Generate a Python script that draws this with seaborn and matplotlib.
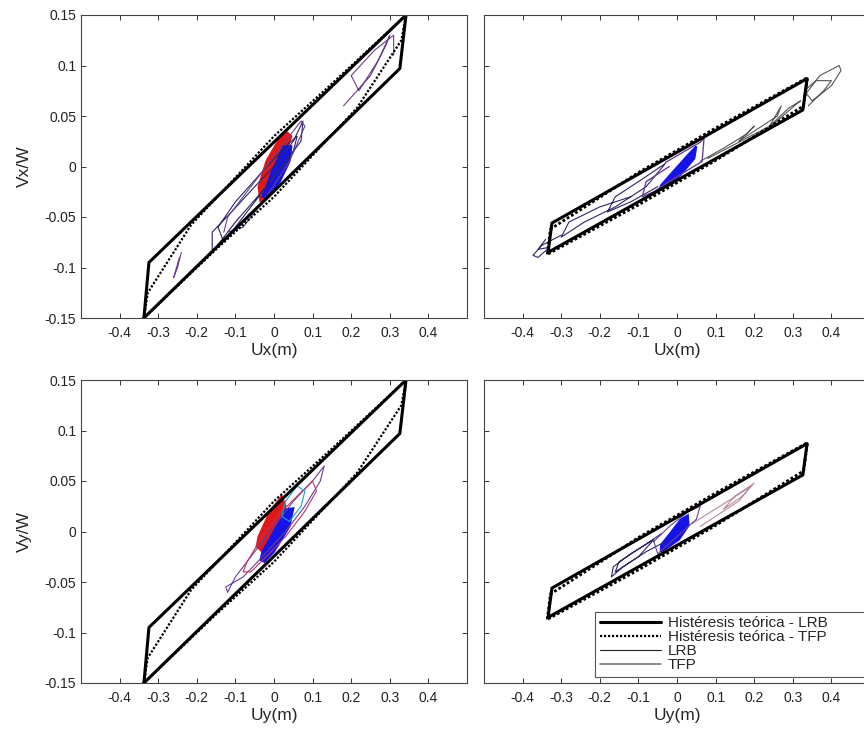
import numpy as np
import pandas as pd
import matplotlib
matplotlib.use("Agg")
import matplotlib.pyplot as plt
import seaborn as sns
from matplotlib.lines import Line2D

# ---------------- data ----------------
xticks = [-0.4, -0.3, -0.2, -0.1, 0.0, 0.1, 0.2, 0.3, 0.4]
xtick_labels = ["-0.4", "-0.3", "-0.2", "-0.1", "0", "0.1", "0.2", "0.3", "0.4"]
yticks = [-0.15, -0.1, -0.05, 0.0, 0.05, 0.1, 0.15]
ytick_labels = ["-0.15", "-0.1", "-0.05", "0", "0.05", "0.1", "0.15"]

# theoretical hysteresis (left column)
lrb_left_u = [-0.337, -0.324, 0.342, 0.326, -0.337]
lrb_left_v = [-0.150, -0.095, 0.150, 0.097, -0.150]
tfp_left_u = [-0.337, -0.327, -0.215, 0.0, 0.15, 0.342, 0.330, 0.215, 0.0, -0.15, -0.337]
tfp_left_v = [-0.150, -0.125, -0.058, 0.030, 0.082, 0.150, 0.125, 0.058, -0.030, -0.082, -0.150]

# theoretical hysteresis (right column)
lrb_right_u = [-0.334, -0.324, 0.337, 0.326, -0.334]
lrb_right_v = [-0.085, -0.056, 0.087, 0.056, -0.085]
tfp_right_u = [-0.336, -0.328, -0.10, 0.10, 0.338, 0.328, 0.10, -0.10, -0.336]
tfp_right_v = [-0.087, -0.062, -0.006, 0.038, 0.088, 0.060, 0.006, -0.038, -0.087]

# panel A (Ux vs Vx/W, left)
a_nav_u = [0.00, 0.05, 0.075, 0.07, 0.02, -0.06, -0.13, -0.145, -0.10, -0.03, 0.03, 0.06, 0.05, -0.02, -0.10, -0.16, -0.16, -0.11, -0.05, 0.00]
a_nav_v = [0.00, 0.025, 0.045, 0.025, 0.000, -0.040, -0.075, -0.060, -0.035, -0.005, 0.020, 0.030, 0.015, -0.020, -0.055, -0.085, -0.065, -0.045, -0.020, 0.00]
a_nav2_u = [-0.09, -0.12, -0.08, -0.02, 0.04, 0.08, 0.07, 0.02, -0.06, -0.12, -0.13]
a_nav2_v = [-0.05, -0.065, -0.06, -0.03, 0.005, 0.04, 0.045, 0.02, -0.02, -0.05, -0.065]
a_end_u = [0.18, 0.25, 0.29, 0.30, 0.27, 0.22, 0.20, 0.26, 0.31, 0.31]
a_end_v = [0.06, 0.09, 0.12, 0.13, 0.105, 0.075, 0.09, 0.115, 0.13, 0.11]
a_left_u = [-0.24, -0.25, -0.26, -0.245]
a_left_v = [-0.085, -0.10, -0.11, -0.09]
a_red_u = [-0.04, -0.02, 0.01, 0.03, 0.045, 0.02, -0.01, -0.035]
a_red_v = [-0.02, 0.005, 0.025, 0.035, 0.03, 0.0, -0.025, -0.035]
a_blob_u = [-0.025, -0.005, 0.025, 0.045, 0.04, 0.015, -0.015, -0.03]
a_blob_v = [-0.025, -0.005, 0.02, 0.02, 0.005, -0.015, -0.03, -0.03]

# panel B (Ux vs Vx/W, right)
b_nav_u = [-0.05, -0.12, -0.18, -0.16, -0.10, -0.03, -0.08, -0.16, -0.24, -0.30, -0.28, -0.20, -0.12]
b_nav_v = [-0.02, -0.035, -0.045, -0.030, -0.015, 0.003, -0.02, -0.04, -0.055, -0.07, -0.055, -0.04, -0.03]
b_rt_u = [0.06, 0.12, 0.18, 0.20, 0.16, 0.22, 0.26, 0.27, 0.24, 0.29, 0.32, 0.31, 0.25, 0.15, 0.08]
b_rt_v = [0.005, 0.018, 0.032, 0.04, 0.025, 0.04, 0.05, 0.06, 0.04, 0.058, 0.065, 0.062, 0.042, 0.022, 0.008]
b_out_u = [0.33, 0.37, 0.42, 0.425, 0.40, 0.35, 0.33, 0.36, 0.40, 0.38, 0.34]
b_out_v = [0.07, 0.09, 0.10, 0.095, 0.08, 0.065, 0.075, 0.085, 0.085, 0.075, 0.06]
b_low_u = [-0.30, -0.35, -0.373, -0.36, -0.33, -0.36, -0.34]
b_low_v = [-0.068, -0.078, -0.088, -0.09, -0.08, -0.082, -0.072]
b_pur_u = [-0.03, 0.06, 0.07, 0.065, 0.0, -0.06, -0.09, -0.08, -0.02]
b_pur_v = [0.004, 0.024, 0.028, 0.005, -0.01, -0.025, -0.03, -0.015, 0.0]
b_blob_u = [-0.04, -0.01, 0.03, 0.05, 0.045, 0.01, -0.03, -0.045]
b_blob_v = [-0.018, -0.005, 0.012, 0.02, 0.008, -0.008, -0.02, -0.022]

# panel C (Uy vs Vy/W, left)
c_pur_u = [-0.12, -0.10, -0.05, 0.0, 0.05, 0.10, 0.13, 0.12, 0.08, 0.03, -0.03, -0.08, -0.125, -0.12]
c_pur_v = [-0.06, -0.045, -0.02, 0.005, 0.03, 0.05, 0.065, 0.05, 0.025, 0.0, -0.025, -0.045, -0.055, -0.06]
c_red_u = [-0.07, -0.03, 0.02, 0.06, 0.10, 0.11, 0.08, 0.03, -0.02, -0.06, -0.08, -0.07]
c_red_v = [-0.03, -0.005, 0.02, 0.035, 0.05, 0.04, 0.02, -0.005, -0.025, -0.04, -0.04, -0.03]
c_cyan_u = [0.03, 0.06, 0.08, 0.07, 0.04, 0.02, 0.03]
c_cyan_v = [0.03, 0.045, 0.04, 0.025, 0.01, 0.015, 0.03]
c_redblob_u = [-0.04, -0.01, 0.02, 0.03, 0.0, -0.03, -0.045]
c_redblob_v = [-0.005, 0.02, 0.035, 0.025, 0.0, -0.02, -0.015]
c_blob_u = [-0.03, 0.0, 0.03, 0.05, 0.04, 0.0, -0.025, -0.035]
c_blob_v = [-0.02, 0.0, 0.022, 0.023, 0.005, -0.02, -0.03, -0.028]

# panel D (Uy vs Vy/W, right)
d_nav_u = [-0.03, -0.08, -0.14, -0.17, -0.165, -0.12, -0.06, -0.10, -0.16, -0.15, -0.09, -0.04]
d_nav_v = [-0.01, -0.02, -0.035, -0.045, -0.035, -0.022, -0.008, -0.025, -0.04, -0.03, -0.015, -0.002]
d_pink_u = [0.04, 0.09, 0.14, 0.18, 0.20, 0.17, 0.12, 0.15, 0.19, 0.16, 0.10, 0.06]
d_pink_v = [0.008, 0.02, 0.032, 0.042, 0.048, 0.035, 0.022, 0.035, 0.045, 0.03, 0.015, 0.005]
d_pur_u = [-0.06, -0.02, 0.03, 0.06, 0.05, 0.0, -0.05, -0.06]
d_pur_v = [-0.01, 0.005, 0.02, 0.025, 0.012, -0.005, -0.022, -0.01]
d_blob_u = [-0.041, -0.02, 0.01, 0.028, 0.03, 0.005, -0.025, -0.042]
d_blob_v = [-0.013, -0.003, 0.012, 0.016, 0.006, -0.008, -0.016, -0.02]

legend_labels = ["Histéresis teórica - LRB", "Histéresis teórica - TFP", "LRB", "TFP"]

# ---------------- style ----------------
sns.set_theme(style="white")
plt.rcParams["font.family"] = ["Liberation Sans", "DejaVu Sans"]
plt.rcParams.update({
    "xtick.direction": "in", "ytick.direction": "in",
    "xtick.top": True, "ytick.right": True,
    "xtick.bottom": True, "ytick.left": True,
    "xtick.major.size": 3.5, "ytick.major.size": 3.5,
    "xtick.major.width": 0.7, "ytick.major.width": 0.7,
    "xtick.color": "#333333", "ytick.color": "#333333",
    "xtick.labelcolor": "#222222", "ytick.labelcolor": "#222222",
    "xtick.major.pad": 6, "ytick.major.pad": 3.5,
    "axes.edgecolor": "#444444", "axes.linewidth": 0.8,
})

fig = plt.figure(figsize=(8.64, 7.31), dpi=100)
W, H = 864, 731
def pos(x0, top, w=386, h=303):
    return [x0 / W, 1 - (top + h) / H, w / W, h / H]

axA = fig.add_axes(pos(81, 15))
axB = fig.add_axes(pos(484, 15))
axC = fig.add_axes(pos(81, 380))
axD = fig.add_axes(pos(484, 380))

NAVY = "#2c2766"
PURPLE = "#6b3f8f"
RED = "#e01818"
BLUE = "#1414e6"
CYAN = "#1ea5c8"
PINK = "#b88aa0"
GRAY = "#555555"

def path(ax, u, v, color, lw=0.8, ls="-"):
    sns.lineplot(x=u, y=v, sort=False, estimator=None, color=color,
                 linewidth=lw, linestyle=ls, ax=ax, legend=False)

def theo(ax, lu, lv, tu, tv, tlw):
    path(ax, lu, lv, "black", lw=2.2)
    path(ax, tu, tv, "black", lw=tlw, ls=(0, (1, 0.8)))

# panel A
path(axA, a_nav_u, a_nav_v, NAVY)
path(axA, a_nav2_u, a_nav2_v, PURPLE)
path(axA, a_end_u, a_end_v, PURPLE)
path(axA, a_left_u, a_left_v, PURPLE)
axA.fill(a_red_u, a_red_v, color=RED, lw=1.5, ec=RED)
axA.fill(a_blob_u, a_blob_v, color=BLUE, lw=1.5, ec=BLUE)
theo(axA, lrb_left_u, lrb_left_v, tfp_left_u, tfp_left_v, 1.6)

# panel B
path(axB, b_nav_u, b_nav_v, NAVY)
path(axB, b_rt_u, b_rt_v, GRAY)
path(axB, b_out_u, b_out_v, GRAY)
path(axB, b_low_u, b_low_v, NAVY)
path(axB, b_pur_u, b_pur_v, PURPLE, lw=1.0)
axB.fill(b_blob_u, b_blob_v, color=BLUE, lw=1.5, ec=BLUE)
theo(axB, lrb_right_u, lrb_right_v, tfp_right_u, tfp_right_v, 2.0)

# panel C
path(axC, c_pur_u, c_pur_v, PURPLE)
path(axC, c_red_u, c_red_v, "#c0306a")
path(axC, c_cyan_u, c_cyan_v, CYAN)
axC.fill(c_redblob_u, c_redblob_v, color=RED, lw=1.5, ec=RED)
axC.fill(c_blob_u, c_blob_v, color=BLUE, lw=1.5, ec=BLUE)
theo(axC, lrb_left_u, lrb_left_v, tfp_left_u, tfp_left_v, 1.6)

# panel D
path(axD, d_nav_u, d_nav_v, NAVY)
path(axD, d_pink_u, d_pink_v, PINK)
path(axD, d_pur_u, d_pur_v, PURPLE)
axD.fill(d_blob_u, d_blob_v, color=BLUE, lw=1.5, ec=BLUE)
theo(axD, lrb_right_u, lrb_right_v, tfp_right_u, tfp_right_v, 2.0)

for ax, xl, yl, left in [(axA, "Ux(m)", "Vx/W", True), (axB, "Ux(m)", None, False),
                         (axC, "Uy(m)", "Vy/W", True), (axD, "Uy(m)", None, False)]:
    ax.set_xlim(-0.5, 0.5)
    ax.set_ylim(-0.15, 0.15)
    ax.set_xticks(xticks)
    ax.set_xticklabels(xtick_labels, fontsize=10)
    ax.set_yticks(yticks)
    if left:
        ax.set_yticklabels(ytick_labels, fontsize=10)
        ax.set_ylabel(yl, fontsize=12.5)
        ax.yaxis.set_label_coords(-0.127, 0.5)
    else:
        ax.set_yticklabels([])
        ax.set_ylabel("")
    ax.set_xlabel(xl, fontsize=12.5)
    ax.xaxis.set_label_coords(0.5, -0.082)

handles = [Line2D([], [], color="black", lw=2.2),
           Line2D([], [], color="black", lw=1.6, ls=(0, (1, 0.8))),
           Line2D([], [], color="#222222", lw=0.8),
           Line2D([], [], color="#777777", lw=1.2)]
leg = axD.legend(handles, legend_labels, loc="lower left", mode="expand",
                 bbox_to_anchor=((595 - 484) / 386, (683 - 677) / 303,
                                 (874 - 595) / 386, 0.2),
                 borderaxespad=0.0, fontsize=11,
                 labelspacing=0.0, handlelength=4.0, handletextpad=0.45,
                 borderpad=0.3, fancybox=False, framealpha=1, edgecolor="#555555")
leg.get_frame().set_linewidth(0.8)

fig.savefig("out.png", dpi=100)
